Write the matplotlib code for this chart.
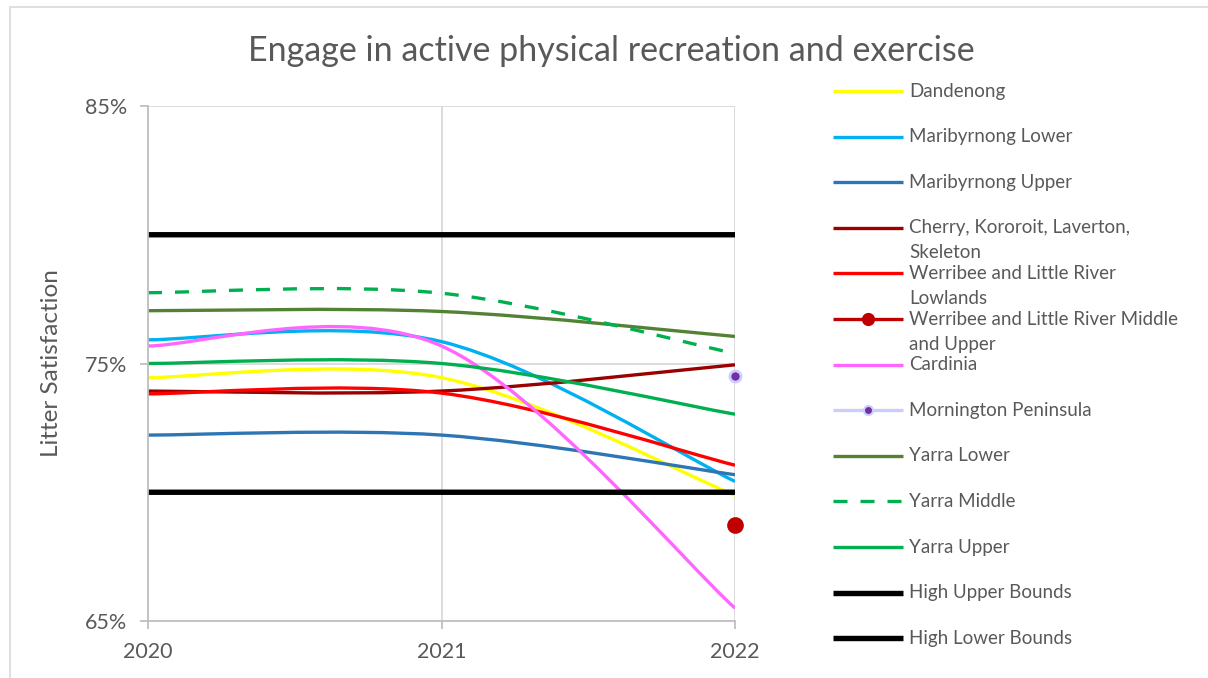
import numpy as np
import matplotlib
matplotlib.use("Agg")
import matplotlib.pyplot as plt
from matplotlib.path import Path
from matplotlib.patches import PathPatch, Rectangle
from matplotlib.lines import Line2D

plt.rcParams['font.family'] = ['Lato', 'DejaVu Sans']
TEXT = '#595959'

# data (percent)
years = [2020, 2021, 2022]
dandenong = [74.45, 74.45, 69.88]
maribyrnong_lower = [75.92, 75.85, 70.42]
maribyrnong_upper = [72.22, 72.22, 70.68]
cherry = [73.93, 73.93, 74.95]
werribee_lowlands = [73.82, 73.85, 71.05]
werribee_mid_upper = [np.nan, np.nan, 68.72]
cardinia = [75.68, 75.68, 65.5]
mornington = [np.nan, np.nan, 74.53]
yarra_lower = [77.05, 77.02, 76.05]
yarra_middle = [77.75, 77.73, 75.39]
yarra_upper = [75.0, 75.0, 73.03]
high_upper = [80.0, 80.0, 80.0]
high_lower = [70.0, 70.0, 70.0]

y_ticks = [65, 75, 85]


def smooth_path(xs, ys):
    # excel style smoothed line: cubic bezier through the points
    pts = np.column_stack([xs, ys]).astype(float)
    n = len(pts)
    verts = [pts[0]]
    codes = [Path.MOVETO]
    for i in range(n - 1):
        p0 = pts[max(i - 1, 0)]
        p1 = pts[i]
        p2 = pts[i + 1]
        p3 = pts[min(i + 2, n - 1)]
        verts += [p1 + (p2 - p0) / 6, p2 - (p3 - p1) / 6, p2]
        codes += [Path.CURVE4] * 3
    return Path(verts, codes)


# name, values, color, width, dashes, marker, marker face, marker edge
series = [
    ('Dandenong', dandenong, '#ffff00', 2.4, None, None, None, None),
    ('Maribyrnong Lower', maribyrnong_lower, '#00b0f0', 2.4, None, None, None, None),
    ('Maribyrnong Upper', maribyrnong_upper, '#2e75b6', 2.4, None, None, None, None),
    ('Cherry, Kororoit, Laverton,\nSkeleton', cherry, '#9a0000', 2.4, None, None, None, None),
    ('Werribee and Little River\nLowlands', werribee_lowlands, '#ff0000', 2.4, None, None, None, None),
    ('Werribee and Little River Middle\nand Upper', werribee_mid_upper, '#c00000', 2.4, None, 'o', '#c00000', '#c00000'),
    ('Cardinia', cardinia, '#ff66ff', 2.4, None, None, None, None),
    ('Mornington Peninsula', mornington, '#ccccff', 2.4, None, 'o', '#7030a0', '#ccccff'),
    ('Yarra Lower', yarra_lower, '#548235', 2.4, None, None, None, None),
    ('Yarra Middle', yarra_middle, '#00b050', 2.4, (4.2, 3.9), None, None, None),
    ('Yarra Upper', yarra_upper, '#00b050', 2.4, None, None, None, None),
    ('High Upper Bounds', high_upper, '#000000', 3.9, None, None, None, None),
    ('High Lower Bounds', high_lower, '#000000', 3.9, None, None, None, None),
]

fig = plt.figure(figsize=(12.08, 6.78), dpi=100)
ax = fig.add_axes([148 / 1208, 1 - 621 / 678, 587 / 1208, 515 / 678])

for name, vals, color, lw, dashes, marker, mfc, mec in series:
    vals = np.asarray(vals, dtype=float)
    ok = ~np.isnan(vals)
    xs = np.asarray(years)[ok]
    if ok.sum() > 1:
        ls = (0, dashes) if dashes else 'solid'
        patch = PathPatch(smooth_path(xs, vals[ok]), fill=False, edgecolor=color,
                          lw=lw, linestyle=ls, capstyle='butt', joinstyle='round')
        ax.add_patch(patch)
    else:
        ms = 10 if mfc == '#c00000' else 8
        ax.plot(xs, vals[ok], linestyle='none', marker=marker, ms=ms, mfc=mfc,
                mec=mec, mew=2, clip_on=False, zorder=5)

ax.set_xlim(2020, 2022)
ax.set_ylim(65, 85)
ax.set_xticks(years)
ax.set_xticklabels([str(y) for y in years])
ax.set_yticks(y_ticks)
ax.set_yticklabels([f'{v}%' for v in y_ticks])
ax.tick_params(colors='#bfbfbf', labelcolor=TEXT, labelsize=15.5, length=6, width=1.3, pad=9)
ax.grid(True, color='#d9d9d9', lw=1.3)
ax.set_axisbelow(True)
for side in ['top', 'right']:
    ax.spines[side].set_visible(False)
for side in ['left', 'bottom']:
    ax.spines[side].set_color('#bfbfbf')
    ax.spines[side].set_linewidth(1.3)

ax.set_ylabel('Litter Satisfaction', fontsize=17.5, color=TEXT)
ax.yaxis.set_label_coords(-0.1465, 0.5)

fig.text(611 / 1208, 1 - 51 / 678, 'Engage in active physical recreation and exercise',
         ha='center', va='center', fontsize=24.5, color=TEXT)

# legend drawn in its own axes, one row per series
lax = fig.add_axes([833 / 1208, 0, 375 / 1208, 1])
lax.set_xlim(0, 375)
lax.set_ylim(12.87, -1.996)
lax.axis('off')
for i, (name, vals, color, lw, dashes, marker, mfc, mec) in enumerate(series):
    line = Line2D([0, 70], [i, i], color=color, lw=lw, solid_capstyle='butt',
                  dash_capstyle='butt')
    if dashes:
        line.set_dashes(dashes)
    lax.add_line(line)
    if marker:
        lax.plot([35], [i], marker=marker, ms=8 if mfc == '#c00000' else 6.5,
                 mfc=mfc, mec=mec, mew=1.5)
    for j, part in enumerate(name.split('\n')):
        lax.text(76, i + j * 0.55, part, va='center', ha='left', fontsize=13.5, color=TEXT)

# outer chart border
fig.add_artist(Rectangle((10 / 1208, -0.1), 1.2, 1.1 - 7 / 678, transform=fig.transFigure,
                         fill=False, edgecolor='#d9d9d9', lw=1.2))

fig.savefig('out.png', dpi=100)
